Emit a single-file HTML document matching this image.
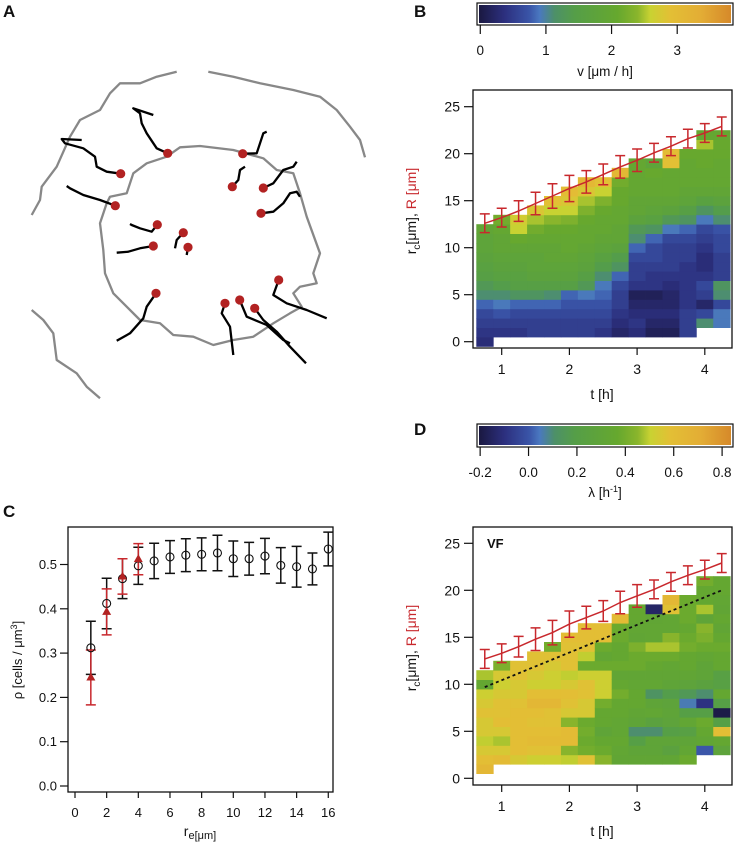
<!DOCTYPE html>
<html><head><meta charset="utf-8">
<style>
html,body{margin:0;padding:0;background:#fff;}
svg{display:block;font-family:"Liberation Sans",Arial,sans-serif;}
</style></head>
<body>
<svg id="fig" width="736" height="843" viewBox="0 0 736 843" xmlns="http://www.w3.org/2000/svg">
<defs>
<linearGradient id="cmap" x1="0" x2="1" y1="0" y2="0">
<stop offset="0" stop-color="#1a1840"/><stop offset="0.1" stop-color="#2c2f7e"/>
<stop offset="0.2" stop-color="#3a55a8"/><stop offset="0.24" stop-color="#4a78c0"/>
<stop offset="0.3" stop-color="#4d9068"/><stop offset="0.38" stop-color="#559e48"/>
<stop offset="0.55" stop-color="#66a82e"/><stop offset="0.63" stop-color="#8ab52c"/>
<stop offset="0.68" stop-color="#c9d232"/><stop offset="0.76" stop-color="#e3bf35"/>
<stop offset="0.88" stop-color="#e3ad35"/><stop offset="1" stop-color="#d6892a"/>
</linearGradient>
</defs>
<g id="root"></g>
</svg>
<script>
// ---------- DATA ----------
const times = [0.75,1,1.25,1.5,1.75,2,2.25,2.5,2.75,3,3.25,3.5,3.75,4,4.25];
const B_start = [0,1,1,1,1,1,1,1,1,1,1,1,1,2,2];
const B_cols = [
[0.3,0.4,0.5,0.6,0.8,1.1,1.3,1.5,1.6,1.7,1.8,1.8,1.9],
[0.4,0.5,0.7,0.9,1.1,1.4,1.6,1.7,1.8,1.9,1.9,2.0,2.2],
[0.4,0.5,0.6,0.8,1.2,1.5,1.6,1.7,1.8,1.9,2.1,2.6,2.7],
[0.5,0.5,0.6,0.8,1.2,1.5,1.7,1.8,1.8,1.9,2.0,2.2,2.5,2.8],
[0.5,0.5,0.6,0.8,1.1,1.5,1.7,1.8,1.9,1.9,2.0,2.1,2.4,2.6,2.9],
[0.5,0.5,0.6,0.7,0.8,1.5,1.7,1.8,1.9,2.0,2.0,2.1,2.3,2.6,2.8,3.0],
[0.5,0.5,0.6,0.7,0.9,1.3,1.5,1.7,1.8,1.9,2.0,2.0,2.1,2.3,2.5,2.8,3.1],
[0.4,0.5,0.6,0.7,0.8,0.9,1.1,1.4,1.6,1.8,1.9,2.0,2.0,2.1,2.3,2.6,2.9],
[0.2,0.3,0.4,0.5,0.5,0.6,0.8,1.2,1.4,1.7,1.9,1.9,2.0,2.0,2.1,2.1,2.2,3.1],
[0.3,0.4,0.3,0.2,0.1,0.4,0.5,0.5,0.6,0.8,1.1,1.3,1.7,1.9,1.9,2.0,2.0,2.0,2.0],
[0.1,0.2,0.3,0.2,0.1,0.4,0.4,0.5,0.6,0.6,0.8,1.2,1.6,1.8,1.9,2.0,2.0,2.1,1.8],
[0.1,0.2,0.3,0.2,0.2,0.3,0.4,0.5,0.5,0.5,0.6,0.9,1.3,1.7,1.9,2.0,2.0,2.0,2.9,3.0],
[0.5,0.5,0.5,0.4,0.4,0.4,0.4,0.4,0.5,0.5,0.6,0.8,1.2,1.5,1.8,1.9,2.0,2.0,2.0,2.1],
[1.1,0.6,0.2,0.5,0.6,0.4,0.3,0.3,0.4,0.5,0.6,0.9,1.2,1.6,1.9,2.0,2.0,2.1,2.1,2.5,2.0],
[0.9,0.9,0.6,1.1,1.2,0.5,0.5,0.5,0.6,0.6,0.7,1.1,1.4,1.7,1.9,2.0,2.0,2.0,2.1,2.1,2.0]
];
const B_R = [12.6,13.2,13.9,14.7,15.5,16.3,17.0,17.8,18.6,19.3,20.1,20.8,21.6,22.2,22.9];
const B_Rerr = [1,1,1.1,1.2,1.3,1.4,1.2,1.1,1.2,1.2,1.0,1.0,1.0,1.0,1.0];
const D_start = [1,2,2,2,2,2,2,2,2,2,2,2,2,3,3];
const D_cols = [
[0.65,0.6,0.55,0.5,0.55,0.55,0.58,0.55,0.52,0.35,0.48],
[0.62,0.55,0.48,0.55,0.6,0.58,0.58,0.55,0.52,0.55,0.42],
[0.55,0.6,0.6,0.6,0.6,0.6,0.58,0.55,0.55,0.58,0.58],
[0.52,0.58,0.62,0.6,0.58,0.6,0.65,0.6,0.52,0.55,0.58,0.58],
[0.52,0.58,0.62,0.6,0.58,0.58,0.65,0.6,0.52,0.52,0.55,0.58,0.4],
[0.5,0.45,0.62,0.62,0.45,0.55,0.58,0.6,0.55,0.5,0.58,0.58,0.58,0.6],
[0.58,0.4,0.38,0.4,0.38,0.55,0.55,0.58,0.58,0.52,0.38,0.5,0.58,0.6,0.6],
[0.45,0.38,0.35,0.3,0.35,0.35,0.4,0.52,0.52,0.52,0.38,0.33,0.38,0.6,0.6],
[0.32,0.33,0.35,0.33,0.33,0.35,0.35,0.4,0.35,0.32,0.38,0.35,0.35,0.38,0.38,0.62],
[0.32,0.3,0.2,0.1,0.3,0.32,0.35,0.35,0.33,0.32,0.38,0.38,0.42,0.32,0.33,0.35,0.35],
[0.32,0.3,0.3,0.1,0.25,0.33,0.3,0.12,0.33,0.32,0.35,0.38,0.48,0.33,0.33,0.32,-0.15],
[0.32,0.25,0.3,0.2,0.28,0.3,0.28,0.18,0.3,0.32,0.33,0.38,0.48,0.45,0.33,0.33,0.58,0.65],
[0.38,0.33,0.3,0.22,0.33,0.2,0.05,0.15,0.28,0.32,0.35,0.35,0.4,0.38,0.35,0.38,0.38,0.38],
[0.0,0.32,0.35,0.38,0.2,-0.1,0.1,0.25,0.3,0.3,0.33,0.38,0.42,0.45,0.3,0.48,0.35,0.35,0.4],
[0.28,0.35,0.6,0.2,-0.2,0.2,0.35,0.22,0.22,0.35,0.35,0.38,0.35,0.32,0.35,0.32,0.33,0.35,0.35]
];
const D_R = [12.7,13.3,14.0,14.8,15.5,16.4,17.1,17.8,18.7,19.4,20.1,20.9,21.6,22.2,22.9];
const D_Rerr = [1,1,1.1,1.2,1.3,1.4,1.2,1.1,1.2,1.2,1.0,1.0,1.0,1.0,1.0];
const D_dash = [[0.75,9.7],[4.25,20.0]];
const C_x = [1,2,3,4,5,6,7,8,9,10,11,12,13,14,15,16];
const C_black = [0.312,0.412,0.468,0.497,0.508,0.517,0.521,0.523,0.526,0.513,0.513,0.519,0.498,0.495,0.490,0.535];
const C_blackErr = [0.06,0.057,0.045,0.042,0.04,0.037,0.037,0.037,0.04,0.04,0.037,0.04,0.04,0.046,0.036,0.038];
const C_redX = [1,2,3,4];
const C_red = [0.245,0.393,0.473,0.512];
const C_redErr = [0.062,0.052,0.04,0.035];
const ticksT = [1,2,3,4];
const ticksR = [0,5,10,15,20,25];
const ticksCy = [0.0,0.1,0.2,0.3,0.4,0.5];
const ticksCx = [0,2,4,6,8,10,12,14,16];
const cbB_ticks = [0,1,2,3];
const cbD_ticks = [-0.2,0.0,0.2,0.4,0.6,0.8];

// ---------- helpers ----------
const NS="http://www.w3.org/2000/svg";
const root=document.getElementById('root');
function mk(tag,attrs,parent){const e=document.createElementNS(NS,tag);for(const k in attrs)e.setAttribute(k,attrs[k]);(parent||root).appendChild(e);return e;}
function txt(x,y,s,size,anchor,parent,extra){const e=mk('text',Object.assign({x:x,y:y,'font-size':size,'text-anchor':anchor||'middle',fill:'#111'},extra||{}),parent);e.textContent=s;return e;}
const stops=[[0,[26,24,64]],[0.1,[44,47,126]],[0.2,[58,85,168]],[0.24,[74,120,192]],[0.3,[77,144,104]],[0.38,[85,158,72]],[0.55,[102,168,46]],[0.63,[138,181,44]],[0.68,[201,210,50]],[0.76,[227,191,53]],[0.88,[227,173,53]],[1,[214,137,42]]];
function cmap(f){f=Math.max(0,Math.min(1,f));for(let i=1;i<stops.length;i++){if(f<=stops[i][0]){const a=stops[i-1],b=stops[i];const u=(f-a[0])/(b[0]-a[0]);const c=a[1].map((v,j)=>Math.round(v+(b[1][j]-v)*u));return `rgb(${c[0]},${c[1]},${c[2]})`;}}return 'rgb(214,137,42)';}

// ---------- Panel letters ----------
[['A',3,17],['B',414,17],['C',3,517],['D',414,435]].forEach(([l,x,y])=>{
 const t=txt(x,y,l,17,'start',root,{'font-weight':'bold'});
 
 
});

// ---------- Panel A ----------
const gA=mk('g',{});


function zpath(pts){return pts.map((p,i)=>(i?'L':'M')+(p[0]/3).toFixed(1)+' '+(p[1]/3+60).toFixed(1)).join(' ');}
const inner=[[500,290],[540,262],[600,258],[700,270],[790,295],[830,330],[880,340],[900,400],[920,470],[960,580],[940,640],[950,670],[900,680],[880,700],[905,740],[870,760],[820,790],[760,830],[700,840],[640,855],[580,830],[520,825],[480,790],[420,780],[380,740],[340,700],[315,640],[310,570],[300,490],[320,430],[330,410],[380,400],[400,340],[440,310],[500,290]];
const outer1=[[95,465],[120,420],[125,380],[170,320],[210,230],[240,180],[300,150],[330,100],[360,70],[420,70],[470,50],[530,35]];
const outer2=[[625,35],[700,50],[780,70],[880,90],[960,110],[1010,150],[1050,200],[1080,240],[1095,292]];
const outer3=[[95,750],[130,780],[160,820],[170,900],[230,940],[260,980],[300,1015]];
[inner,outer1,outer2,outer3].forEach((p,i)=>{const e=mk('path',{d:zpath(p),fill:'none',stroke:'#888','stroke-width':2.3,'stroke-linejoin':'round'},gA);
 
 });
const trajs=[
[[503,280],[470,265],[440,220],[425,190],[420,160],[400,145],[460,165]],
[[728,281],[770,280],[780,250],[790,220],[800,215]],
[[362,341],[320,335],[290,320],[285,290],[250,265],[195,250],[185,237],[245,240]],
[[697,380],[715,360],[720,330],[735,320]],
[[790,384],[820,370],[850,330],[880,320],[890,305]],
[[346,437],[300,420],[250,405],[210,385],[200,378]],
[[783,460],[820,455],[850,430],[870,400],[890,395],[900,410]],
[[472,494],[455,515],[420,505],[395,495],[390,492]],
[[550,518],[530,540],[525,565]],
[[460,558],[420,565],[385,575],[350,578]],
[[564,562],[560,585]],
[[836,660],[820,705],[860,730],[920,750],[980,775]],
[[468,700],[440,740],[430,775],[390,820],[350,842]],
[[675,730],[665,760],[690,800],[700,885]],
[[719,720],[740,770],[800,795],[850,840],[870,850]],
[[764,745],[790,780],[830,815],[870,860],[918,910]]
];
trajs.forEach(t=>{const e=mk('path',{d:zpath(t),fill:'none',stroke:'#000','stroke-width':2.3,'stroke-linejoin':'round'},gA);
 
 });
trajs.forEach(t=>{const e=mk('circle',{cx:(t[0][0]/3).toFixed(1),cy:(t[0][1]/3+60).toFixed(1),r:4.6,fill:'#b22222'},gA);
 
 });

// ---------- colorbars ----------
function colorbar(x0,x1,y0,y1,vmin,vmax,ticks,fmt,name){
 const g=mk('g',{});
 
 
 mk('rect',{x:x0,y:y0,width:x1-x0,height:y1-y0,fill:'#fff',stroke:'#111','stroke-width':1.2},g);
 mk('rect',{x:x0+2,y:y0+2,width:x1-x0-4,height:y1-y0-4,fill:'url(#cmap)'},g);
 ticks.forEach(v=>{const x=x0+(v-vmin)/(vmax-vmin)*(x1-x0);
  mk('line',{x1:x,x2:x,y1:y1,y2:y1+9,stroke:'#111','stroke-width':1.2},g);
  txt(x,y1+30,fmt(v),13.5,'middle',g);});
 return g;
}
const cbB=colorbar(477,733,3,25,-0.05,3.85,cbB_ticks,v=>String(v),'colorbar-velocity');
txt(605,76,'v [μm / h]',13.5,'middle',cbB);
const cbD=colorbar(477,733,424,447,-0.213,0.845,cbD_ticks,v=>v.toFixed(1),'colorbar-growth-rate');
const lt=txt(605,497,'λ [h',13.5,'middle',cbD);
const sup=mk('tspan',{dy:-5,'font-size':9},lt);sup.textContent='-1';
const cl=mk('tspan',{dy:5},lt);cl.textContent=']';

// ---------- heatmap panels ----------
function heatPanel(top,bottom,y0px,y25px,cols,starts,vmin,vmax,R,Rerr,name){
 const g=mk('g',{});
 
 
 const L=473,Rr=732;
 const xs=t=>501.7+(t-1)*67.7;
 const ys=v=>y0px+(y25px-y0px)*v/25;
 cols.forEach((col,i)=>{col.forEach((v,j)=>{const r=starts[i]+j;
  const xa=xs(times[i]-0.125), xb=xs(times[i]+0.125), ya=ys(r+0.5), yb=ys(r-0.5);
  const c=mk('rect',{x:xa.toFixed(2),y:ya.toFixed(2),width:(xb-xa+0.4).toFixed(2),height:(yb-ya+0.4).toFixed(2),fill:cmap((v-vmin)/(vmax-vmin))},g);
  
  });});
 const pl=mk('polyline',{points:R.map((v,i)=>xs(times[i]).toFixed(1)+','+ys(v).toFixed(1)).join(' '),fill:'none',stroke:'#c8282d','stroke-width':1.5},g);
 
 
 R.forEach((v,i)=>{const x=xs(times[i]),a=ys(v+Rerr[i]),b=ys(v-Rerr[i]);
  const eb=mk('path',{d:`M${x} ${a}L${x} ${b}M${x-5} ${a}L${x+5} ${a}M${x-5} ${b}L${x+5} ${b}`,stroke:'#c8282d','stroke-width':1.5,fill:'none'},g);
  
  });
 mk('rect',{x:L,y:top,width:Rr-L,height:bottom-top,fill:'none',stroke:'#111','stroke-width':1.3},g);
 ticksR.forEach(v=>{const y=ys(v);mk('line',{x1:L-9,x2:L,y1:y,y2:y,stroke:'#111','stroke-width':1.2},g);txt(L-13,y+5,String(v),14,'end',g);});
 ticksT.forEach(v=>{const x=xs(v);mk('line',{x1:x,x2:x,y1:bottom,y2:bottom+7,stroke:'#111','stroke-width':1.2},g);txt(x,bottom+26,String(v),14,'middle',g);});
 txt(602,bottom+51,'t [h]',14,'middle',g);
 const cy=(top+bottom)/2-8;
 const yl=mk('text',{x:0,y:0,'font-size':14,'text-anchor':'middle',transform:`translate(416,${cy}) rotate(-90)`,fill:'#111'},g);
 const t1=mk('tspan',{},yl);t1.textContent='r';
 const t2=mk('tspan',{dy:4,'font-size':10},yl);t2.textContent='c';
 const t3=mk('tspan',{dy:-4},yl);t3.textContent='[μm],  ';
 const t4=mk('tspan',{fill:'#c8282d'},yl);t4.textContent='R [μm]';
 return {g,xs,ys};
}
heatPanel(90,348,341.7,106.7,B_cols,B_start,-0.05,3.85,B_R,B_Rerr,'panel-b-velocity-heatmap');
const D=heatPanel(527,785,778.3,543.3,D_cols,D_start,-0.213,0.845,D_R,D_Rerr,'panel-d-growth-heatmap');
const dl=mk('line',{x1:D.xs(D_dash[0][0]),y1:D.ys(D_dash[0][1]),x2:D.xs(D_dash[1][0]),y2:D.ys(D_dash[1][1]),stroke:'#111','stroke-width':1.8,'stroke-dasharray':'3,3'},D.g);


const vf=txt(487,548,'VF',13,'start',D.g,{'font-weight':'bold'});



// ---------- Panel C ----------
const gC=mk('g',{});


const cx=v=>75+v*15.83, cy=v=>786-v*443;
ticksCy.forEach(v=>{const y=cy(v);mk('line',{x1:60,x2:68,y1:y,y2:y,stroke:'#111','stroke-width':1.2},gC);txt(57,y+4.5,v.toFixed(1),13,'end',gC);});
ticksCx.forEach(v=>{const x=cx(v);mk('line',{x1:x,x2:x,y1:792,y2:798,stroke:'#111','stroke-width':1.2},gC);txt(x,817,String(v),13,'middle',gC);});
mk('rect',{x:68,y:527,width:265,height:265,fill:'none',stroke:'#111','stroke-width':1.3},gC);
const xl=txt(200,836,'r',14,'middle',gC);
const xs1=mk('tspan',{dy:3,'font-size':11},xl);xs1.textContent='e[μm]';
const ylC=mk('text',{x:0,y:0,'font-size':13,'text-anchor':'middle',transform:'translate(22,660) rotate(-90)',fill:'#111'},gC);
const yc1=mk('tspan',{},ylC);yc1.textContent='ρ [cells / μm';
const yc2=mk('tspan',{dy:-5,'font-size':9},ylC);yc2.textContent='3';
const yc3=mk('tspan',{dy:5},ylC);yc3.textContent=']';
C_x.forEach((v,i)=>{const x=cx(v),a=cy(C_black[i]+C_blackErr[i]),b=cy(C_black[i]-C_blackErr[i]);
 const e=mk('path',{d:`M${x} ${a}L${x} ${b}M${x-5} ${a}L${x+5} ${a}M${x-5} ${b}L${x+5} ${b}`,stroke:'#111','stroke-width':1.5,fill:'none'},gC);
 
 });
C_redX.forEach((v,i)=>{const x=cx(v),a=cy(C_red[i]+C_redErr[i]),b=cy(C_red[i]-C_redErr[i]);
 const e=mk('path',{d:`M${x} ${a}L${x} ${b}M${x-5} ${a}L${x+5} ${a}M${x-5} ${b}L${x+5} ${b}`,stroke:'#c8282d','stroke-width':1.5,fill:'none'},gC);
 
 });
C_x.forEach((v,i)=>{const c=mk('circle',{cx:cx(v),cy:cy(C_black[i]),r:4,fill:'none',stroke:'#111','stroke-width':1.1},gC);
 
 });
C_redX.forEach((v,i)=>{const x=cx(v),y=cy(C_red[i]);
 const p=mk('path',{d:`M${x} ${y-5}L${x+4.5} ${y+3}L${x-4.5} ${y+3}Z`,fill:'#b22222'},gC);
 
 });
</script>
</body></html>
